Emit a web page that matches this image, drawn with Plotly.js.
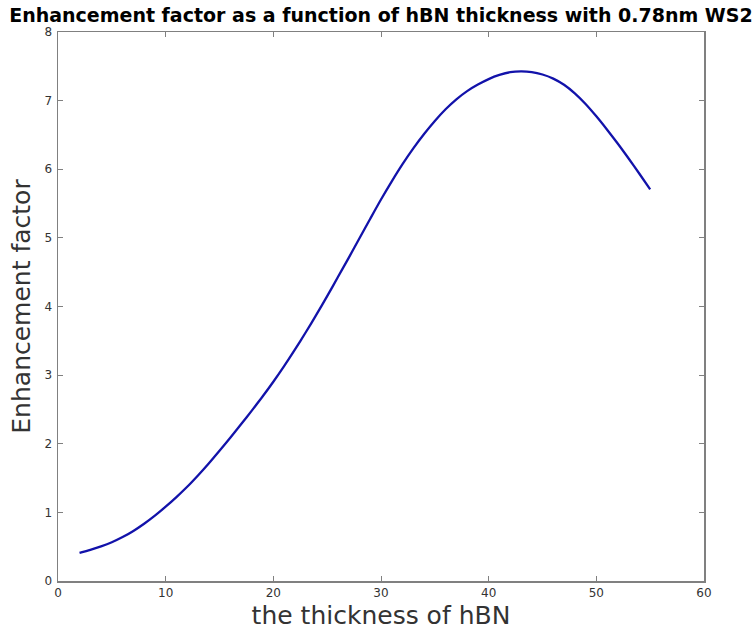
<!DOCTYPE html>
<html>
<head>
<meta charset="utf-8">
<script src="https://cdn.plot.ly/plotly-3.0.1.min.js"></script>
<style>
  html, body { margin: 0; padding: 0; background: #ffffff; }
  #chart { width: 752px; height: 633px; }
</style>
</head>
<body>
<div id="chart"></div>
<script>
// hBN thickness and the resulting enhancement factor
const thickness = [2, 3, 4, 5, 6, 7, 8, 9, 10, 11, 12, 13, 14, 15, 16, 17, 18, 19, 20,
  21, 22, 23, 24, 25, 26, 27, 28, 29, 30, 31, 32, 33, 34, 35, 36, 37, 38, 39, 40,
  41, 42, 43, 44, 45, 46, 47, 48, 49, 50, 51, 52, 53, 54, 55];
const enhancement = [0.41, 0.455, 0.505, 0.565, 0.64, 0.73, 0.835, 0.953, 1.083, 1.223, 1.373, 1.538, 1.713, 1.898, 2.088, 2.283, 2.483, 2.688, 2.903,
  3.131, 3.371, 3.621, 3.881, 4.151, 4.429, 4.709, 4.994, 5.279, 5.559, 5.824, 6.074, 6.304, 6.514, 6.704, 6.874, 7.019, 7.139, 7.234, 7.314,
  7.374, 7.414, 7.426, 7.416, 7.381, 7.321, 7.231, 7.106, 6.951, 6.771, 6.576, 6.371, 6.156, 5.934, 5.706];

const xTicks = [0, 10, 20, 30, 40, 50, 60];
const yTicks = [0, 1, 2, 3, 4, 5, 6, 7, 8];

const axisColor = '#808080';
const textColor = '#333333';

const trace = {
  x: thickness,
  y: enhancement,
  type: 'scatter',
  mode: 'lines',
  line: { color: '#1212aa', width: 2.3, shape: 'spline', smoothing: 0.8 },
  hoverinfo: 'x+y'
};

const layout = {
  width: 752,
  height: 633,
  margin: { l: 58, r: 48, t: 32, b: 52 },
  paper_bgcolor: '#ffffff',
  plot_bgcolor: '#ffffff',
  showlegend: false,
  font: { family: 'DejaVu Sans, sans-serif', color: textColor },
  title: {
    text: 'Enhancement factor as a function of hBN thickness with 0.78nm WS2',
    font: { family: 'DejaVu Sans, sans-serif', size: 19, color: '#000000', weight: 'bold' },
    xref: 'container', x: 0.5066, xanchor: 'center',
    yref: 'container', y: 0.975, yanchor: 'middle'
  },
  xaxis: {
    range: [0, 60],
    tickvals: xTicks,
    ticktext: xTicks.map(String),
    ticks: 'inside',
    ticklen: 5,
    tickwidth: 1,
    tickcolor: axisColor,
    showline: true,
    linecolor: axisColor,
    linewidth: 1.5,
    mirror: 'ticks',
    showgrid: false,
    zeroline: false,
    tickfont: { size: 12, color: textColor },
    title: { text: 'the thickness of hBN', font: { size: 25, color: textColor }, standoff: 7 },
    automargin: false
  },
  yaxis: {
    range: [0, 8],
    tickvals: yTicks,
    ticktext: yTicks.map(String),
    ticks: 'inside',
    ticklen: 5,
    tickwidth: 1,
    tickcolor: axisColor,
    showline: true,
    linecolor: axisColor,
    linewidth: 1.5,
    mirror: 'ticks',
    showgrid: false,
    zeroline: false,
    ticklabelstandoff: 2,
    tickfont: { size: 12, color: textColor },
    title: { text: 'Enhancement factor', font: { size: 25, color: textColor }, standoff: 6 },
    automargin: false
  }
};

Plotly.newPlot('chart', [trace], layout, { displayModeBar: false, staticPlot: true });
</script>
</body>
</html>
